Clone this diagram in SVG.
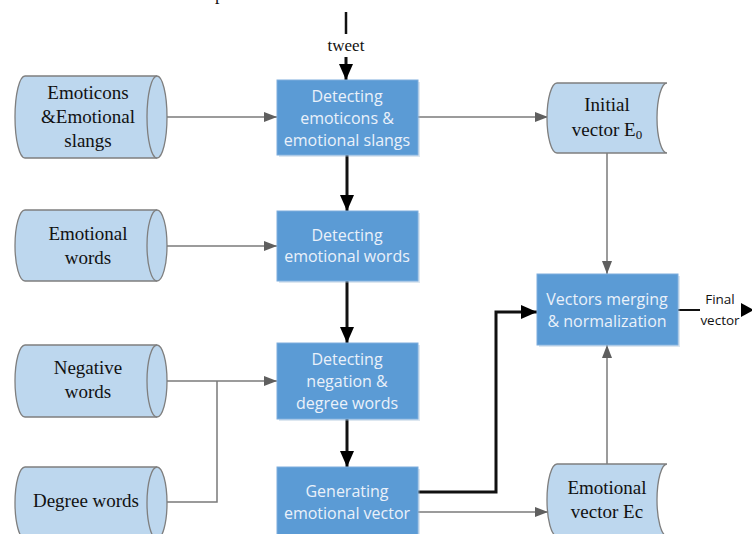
<svg xmlns="http://www.w3.org/2000/svg" width="752" height="534" viewBox="0 0 752 534">
  <defs>
    <style>
      .proc { fill: #5B9BD5; stroke: #7FAEDD; stroke-width: 1; }
      .shadow { fill: #9FB9D3; opacity: 0.35; }
      .ptxt { font-family: "Open Sans", "Liberation Sans", sans-serif; font-size: 16px; fill: #EAF1FA; text-anchor: middle; }
      .store { fill: #BDD7EE; stroke: #7F7F7F; stroke-width: 1.3; }
      .stxt { font-family: "Liberation Serif", "Times New Roman", serif; font-size: 19px; fill: #111; text-anchor: middle; }
      .gray { fill: none; stroke: #7A7A7A; stroke-width: 1.5; }
      .bold { fill: none; stroke: #111; stroke-width: 3; }
      .small { font-family: "Open Sans", "Liberation Sans", sans-serif; font-size: 13.5px; fill: #111; text-anchor: middle; }
    </style>
    <marker id="grayArrow" markerWidth="13" markerHeight="10" refX="13" refY="5" orient="auto" markerUnits="userSpaceOnUse">
      <path d="M0,0 L13,5 L0,10 Z" fill="#5F5F5F"/>
    </marker>
    <marker id="blackArrow" markerWidth="16" markerHeight="14" refX="16" refY="7" orient="auto" markerUnits="userSpaceOnUse">
      <path d="M0,0 L16,7 L0,14 Z" fill="#000"/>
    </marker>
  </defs>

  <rect width="752" height="534" fill="#fff"/>

  <!-- fragment of a line of text above the figure -->
  <text x="215" y="0" style="font-family:'Liberation Serif',serif;font-size:18px;fill:#111">p</text>

  <!-- input label -->
  <g id="tweet">
    <line x1="346" y1="12" x2="346" y2="34" stroke="#111" stroke-width="2.5"/>
    <text x="346" y="51" style="font-family:'Liberation Serif',serif;font-size:17px;fill:#111;text-anchor:middle">tweet</text>
  </g>

  <!-- connectors -->
  <g id="connectors">
    <line class="bold" x1="346" y1="57" x2="346" y2="80" marker-end="url(#blackArrow)"/>
    <line class="bold" x1="347" y1="155" x2="347" y2="211" marker-end="url(#blackArrow)"/>
    <line class="bold" x1="347" y1="281" x2="347" y2="343" marker-end="url(#blackArrow)"/>
    <line class="bold" x1="347" y1="419" x2="347" y2="467" marker-end="url(#blackArrow)"/>
    <polyline class="bold" points="418,492 496,492 496,312 537,312" marker-end="url(#blackArrow)"/>

    <line class="gray" x1="158" y1="117" x2="277" y2="117" marker-end="url(#grayArrow)"/>
    <line class="gray" x1="158" y1="246" x2="277" y2="246" marker-end="url(#grayArrow)"/>
    <line class="gray" x1="158" y1="381" x2="277" y2="381" marker-end="url(#grayArrow)"/>
    <polyline class="gray" points="158,502 217,502 217,381"/>
    <line class="gray" x1="418" y1="117" x2="548" y2="117" marker-end="url(#grayArrow)"/>
    <line class="gray" x1="418" y1="512" x2="548" y2="512" marker-end="url(#grayArrow)"/>
    <line class="gray" x1="607" y1="153" x2="607" y2="274" marker-end="url(#grayArrow)"/>
    <line class="gray" x1="607" y1="464" x2="607" y2="345" marker-end="url(#grayArrow)"/>

    <line x1="678" y1="310" x2="700" y2="310" stroke="#111" stroke-width="2"/>
    <path d="M741,303 L754,310 L741,317 Z" fill="#000"/>
  </g>

  <!-- data sources (left) -->
  <g id="emoticons">
    <path class="store" d="M25,76 L157,76 A10,41 0 0 1 157,158 L25,158 A10,41 0 0 1 25,76 Z"/>
    <path class="store" fill="none" d="M157,76 A10,41 0 0 0 157,158"/>
    <text class="stxt" x="88" y="99">Emoticons</text>
    <text class="stxt" x="88" y="123">&amp;Emotional</text>
    <text class="stxt" x="88" y="147">slangs</text>
  </g>

  <g id="emotional-words">
    <path class="store" d="M25,210 L157,210 A10,35.5 0 0 1 157,281 L25,281 A10,35.5 0 0 1 25,210 Z"/>
    <path class="store" fill="none" d="M157,210 A10,35.5 0 0 0 157,281"/>
    <text class="stxt" x="88" y="240">Emotional</text>
    <text class="stxt" x="88" y="264">words</text>
  </g>

  <g id="negative-words">
    <path class="store" d="M25,345 L157,345 A10,36 0 0 1 157,417 L25,417 A10,36 0 0 1 25,345 Z"/>
    <path class="store" fill="none" d="M157,345 A10,36 0 0 0 157,417"/>
    <text class="stxt" x="88" y="374">Negative</text>
    <text class="stxt" x="88" y="398">words</text>
  </g>

  <g id="degree-words">
    <path class="store" d="M25,467 L157,467 A10,36 0 0 1 157,539 L25,539 A10,36 0 0 1 25,467 Z"/>
    <path class="store" fill="none" d="M157,467 A10,36 0 0 0 157,539"/>
    <text class="stxt" x="86" y="507">Degree words</text>
  </g>

  <!-- processing steps -->
  <g id="detect-emoticons">
    <rect class="shadow" x="279" y="82" width="141" height="75"/>
    <rect class="proc" x="277" y="80" width="141" height="75"/>
    <text class="ptxt" x="347" y="102">Detecting</text>
    <text class="ptxt" x="347" y="124">emoticons &amp;</text>
    <text class="ptxt" x="347" y="146">emotional slangs</text>
  </g>

  <g id="detect-words">
    <rect class="shadow" x="279" y="213" width="141" height="70"/>
    <rect class="proc" x="277" y="211" width="141" height="70"/>
    <text class="ptxt" x="347" y="241">Detecting</text>
    <text class="ptxt" x="347" y="262">emotional words</text>
  </g>

  <g id="detect-negation">
    <rect class="shadow" x="279" y="345" width="141" height="76"/>
    <rect class="proc" x="277" y="343" width="141" height="76"/>
    <text class="ptxt" x="347" y="365">Detecting</text>
    <text class="ptxt" x="347" y="387">negation &amp;</text>
    <text class="ptxt" x="347" y="409">degree words</text>
  </g>

  <g id="generate-vector">
    <rect class="shadow" x="279" y="469" width="141" height="72"/>
    <rect class="proc" x="277" y="467" width="141" height="72"/>
    <text class="ptxt" x="347" y="497">Generating</text>
    <text class="ptxt" x="347" y="519">emotional vector</text>
  </g>

  <g id="merge">
    <rect class="shadow" x="539" y="276" width="141" height="71"/>
    <rect class="proc" x="537" y="274" width="141" height="71"/>
    <text class="ptxt" x="607" y="305">Vectors merging</text>
    <text class="ptxt" x="607" y="327">&amp; normalization</text>
  </g>

  <!-- vectors (right) -->
  <g id="initial-vector">
    <path class="store" d="M557,83 L667,83 A10,35 0 0 0 667,153 L557,153 A10,35 0 0 1 557,83 Z"/>
    <text class="stxt" x="607" y="111">Initial</text>
    <text class="stxt" x="607" y="136">vector E<tspan font-size="13" dy="3">0</tspan></text>
  </g>

  <g id="emotional-vector">
    <path class="store" d="M557,464 L667,464 A10,36 0 0 0 667,536 L557,536 A10,36 0 0 1 557,464 Z"/>
    <text class="stxt" x="607" y="494">Emotional</text>
    <text class="stxt" x="607" y="518">vector Ec</text>
  </g>

  <g id="final-vector">
    <text class="small" x="720" y="304">Final</text>
    <text class="small" x="720" y="325">vector</text>
  </g>
</svg>
